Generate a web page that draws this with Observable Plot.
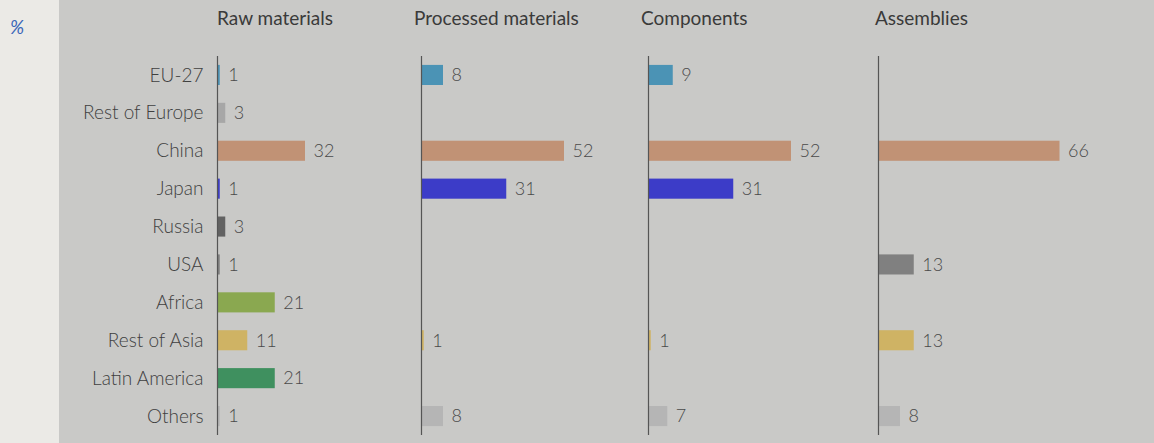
<!DOCTYPE html>
<html>
<head>
<meta charset="utf-8">
<script src="https://cdn.jsdelivr.net/npm/d3@7"></script>
<script src="https://cdn.jsdelivr.net/npm/@observablehq/plot@0.6"></script>
<style>
  html, body { margin: 0; padding: 0; }
  body { width: 1154px; height: 443px; overflow: hidden; background: #ebeae6; font-family: Lato, "Noto Sans", sans-serif; }
  #wrap { position: relative; width: 1154px; height: 443px; }
  #panel { position: absolute; left: 59px; top: 0; width: 1095px; height: 443px; background: #c9c9c7; }
  #unit { position: absolute; left: 10px; top: 15px; font-size: 19px; font-style: italic; font-weight: 400; color: #3a66b8; }
  .plot { position: absolute; top: 0; }
  .plot text { font-weight: 300; }
  .hdr { position: absolute; top: 6px; font-size: 19px; color: #3a3a3a; white-space: nowrap; }
</style>
</head>
<body>
<div id="wrap">
  <div id="panel"></div>
  <div id="unit">%</div>
</div>
<script>
const regions = ["EU-27", "Rest of Europe", "China", "Japan", "Russia", "USA", "Africa", "Rest of Asia", "Latin America", "Others"];
const regionColors = ["#4b93b5", "#a7a7a7", "#c19275", "#3c3cc8", "#626262", "#808080", "#8aa850", "#cfb364", "#3f905f", "#b5b5b5"];
const stages = ["Raw materials", "Processed materials", "Components", "Assemblies"];
const rawMaterials       = [1, 3, 32, 1, 3, 1, 21, 11, 21, 1];
const processedMaterials = [8, null, 52, 31, null, null, null, 1, null, 8];
const components         = [9, null, 52, 31, null, null, null, 1, null, 7];
const assemblies         = [null, null, 66, null, null, 13, null, 13, null, 8];
const stageValues = [rawMaterials, processedMaterials, components, assemblies];

const wrap = document.getElementById("wrap");
const H = 443;
const pxPerUnit = 2.75;
// plot layout: [left, width, marginLeft]
const layout = [
  [59, 361, 158],
  [415, 227, 6],
  [642, 230, 6],
  [872, 282, 6]
];
const hdrLeft = [217, 414, 641, 875];

stages.forEach((stage, i) => {
  const [left, width, ml] = layout[i];
  const data = regions.map((r, j) => ({region: r, value: stageValues[i][j]})).filter(d => d.value != null);
  const inner = width - ml;
  const chart = Plot.plot({
    width, height: H,
    marginLeft: ml, marginRight: 0, marginTop: 56, marginBottom: 8,
    style: {background: "transparent", fontFamily: "Lato, 'Noto Sans', sans-serif", fontSize: "19px", color: "#404040", overflow: "visible"},
    x: {domain: [0, inner / pxPerUnit], axis: null},
    y: {domain: regions, paddingInner: 0.47, paddingOuter: 0.235, round: false, axis: i === 0 ? "left" : null, tickSize: 0, tickPadding: 14, label: null},
    color: {domain: regions, range: regionColors},
    marks: [
      Plot.barX(data, {y: "region", x: "value", fill: "region"}),
      Plot.ruleX([0], {stroke: "#555", strokeWidth: 1.2}),
      Plot.text(data, {y: "region", x: "value", text: d => String(d.value), dx: 8, textAnchor: "start", fill: "#4a4a4a", fontSize: 18})
    ]
  });
  chart.classList.add("plot");
  chart.style.left = left + "px";
  wrap.appendChild(chart);
  const h = document.createElement("div");
  h.className = "hdr";
  h.style.left = hdrLeft[i] + "px";
  h.textContent = stage;
  wrap.appendChild(h);
});
</script>
</body>
</html>
